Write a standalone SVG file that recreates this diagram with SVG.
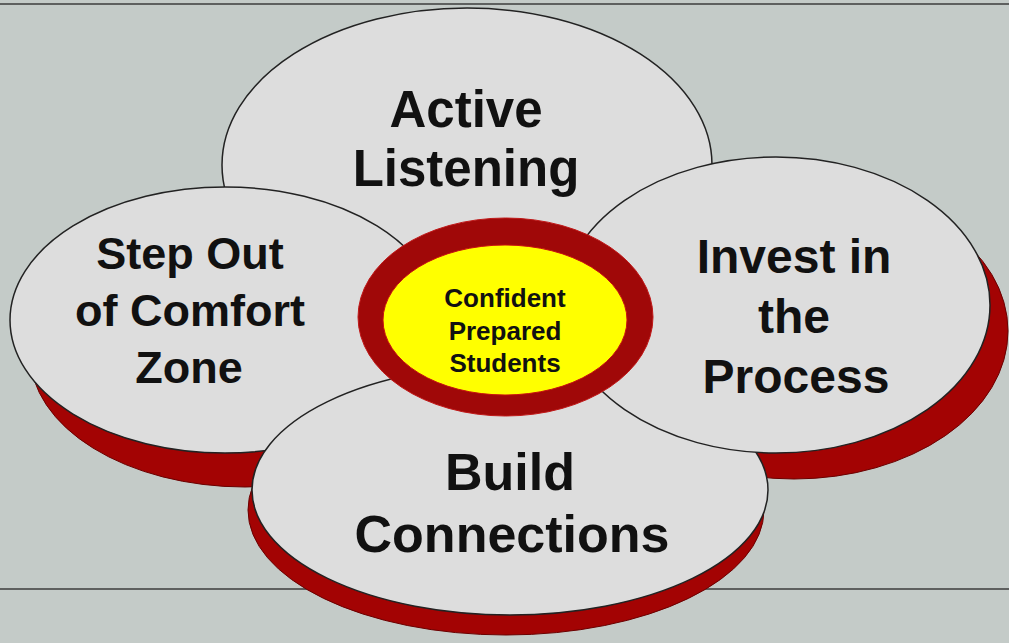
<svg xmlns="http://www.w3.org/2000/svg" width="1009" height="643" viewBox="0 0 1009 643">
  <defs>
    <style>
      .top { fill: #dddddd; stroke: #222222; stroke-width: 1.5; }
      .shadow { fill: #a30303; stroke: #6a0000; stroke-width: 1; }
      .lbl { font-family: "Liberation Sans", Arial, sans-serif; font-weight: bold; fill: #111111; text-anchor: middle; }
      .frame { stroke: #3c3c3c; stroke-width: 1.6; }
    </style>
  </defs>
  <rect x="0" y="0" width="1009" height="643" fill="#c4cbc8"/>
  <line class="frame" x1="0" y1="4" x2="1009" y2="4"/>
  <line class="frame" x1="0" y1="589" x2="1009" y2="589"/>

  <g id="connectors"/>

  <g id="shadows">
    <ellipse class="shadow" cx="245" cy="354" rx="215" ry="133"/>
    <ellipse class="shadow" cx="794" cy="331" rx="214" ry="148"/>
    <ellipse class="shadow" cx="506" cy="510" rx="258" ry="125"/>
  </g>

  <g id="node-active-listening">
    <ellipse class="top" cx="467" cy="165" rx="245" ry="157"/>
    <text class="lbl" font-size="51" x="466" y="127">Active</text>
    <text class="lbl" font-size="51" x="466" y="186">Listening</text>
  </g>

  <g id="node-step-out">
    <ellipse class="top" cx="225" cy="320" rx="215" ry="133"/>
    <text class="lbl" font-size="45" x="190" y="269">Step Out</text>
    <text class="lbl" font-size="45" x="190" y="326">of Comfort</text>
    <text class="lbl" font-size="45" x="189" y="383">Zone</text>
  </g>

  <g id="node-build-connections">
    <ellipse class="top" cx="510" cy="490" rx="258" ry="125"/>
    <text class="lbl" font-size="52" x="510" y="490">Build</text>
    <text class="lbl" font-size="52" x="512" y="552">Connections</text>
  </g>

  <g id="node-invest">
    <ellipse class="top" cx="776" cy="305" rx="214" ry="148"/>
    <text class="lbl" font-size="48" x="794" y="273">Invest in</text>
    <text class="lbl" font-size="48" x="794" y="333">the</text>
    <text class="lbl" font-size="48" x="796" y="393">Process</text>
  </g>

  <g id="node-center">
    <ellipse cx="505.5" cy="317" rx="147.5" ry="99" fill="#a00808" stroke="#c01818" stroke-width="1"/>
    <ellipse cx="505" cy="320" rx="122" ry="75" fill="#ffff00" stroke="#c81010" stroke-width="1"/>
    <text class="lbl" font-size="26" x="505" y="307">Confident</text>
    <text class="lbl" font-size="26" x="505" y="340">Prepared</text>
    <text class="lbl" font-size="26" x="505" y="372">Students</text>
  </g>
</svg>
